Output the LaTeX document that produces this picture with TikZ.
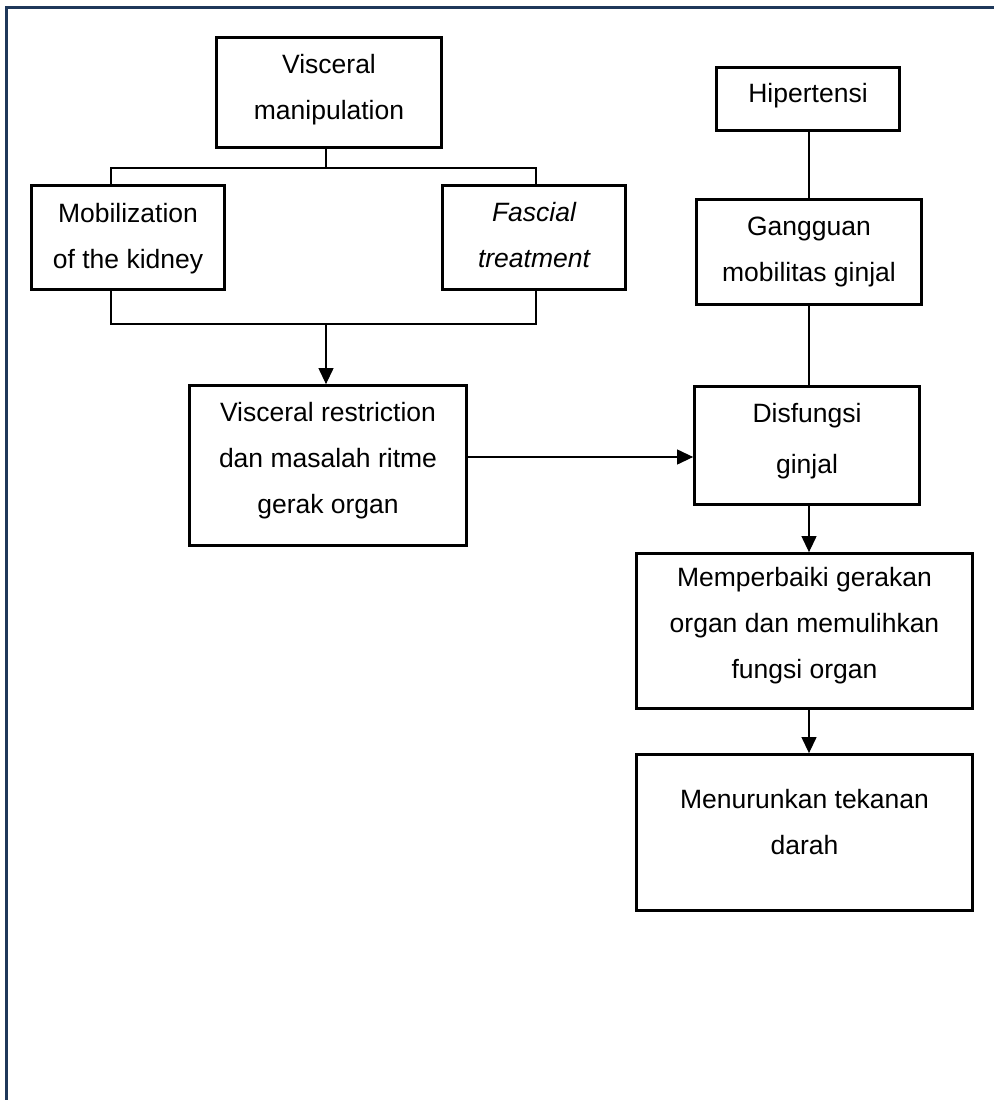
\documentclass[tikz,border=0pt]{standalone}
\usepackage{fontspec}
\setmainfont{Liberation Sans}
\usetikzlibrary{arrows.meta,calc}
\definecolor{framec}{RGB}{31,56,90}
\tikzset{
  box/.style={draw=black, line width=2.8pt, inner sep=0pt, fill=white},
  txt/.style={inner sep=0pt, align=center, font=\fontsize{26.5}{46}\selectfont},
  link/.style={draw=black, line width=1.2pt},
  arr/.style={link, -{Triangle[length=16pt,width=15pt]}},
}
\begin{document}
\begin{tikzpicture}[x=1pt,y=-1pt]
\useasboundingbox (0,0) rectangle (993,1100);
% outer frame
\draw[framec, line width=3.2pt] (995,7.5) -- (6.5,7.5) -- (6.5,1102);

% boxes
\node[box, minimum width=225, minimum height=110] (vm)   at (329,92.5)  {};
\node[box, minimum width=193, minimum height=104] (mob)  at (128,237.5) {};
\node[box, minimum width=183, minimum height=104] (fas)  at (534,237.5) {};
\node[box, minimum width=183, minimum height=63]  (hip)  at (808,99)    {};
\node[box, minimum width=225, minimum height=105] (gang) at (809,252)   {};
\node[box, minimum width=277, minimum height=160] (res)  at (328,465.5) {};
\node[box, minimum width=225, minimum height=118] (dis)  at (807,445.5) {};
\node[box, minimum width=336, minimum height=155] (mem)  at (804.5,631) {};
\node[box, minimum width=336, minimum height=156] (men)  at (804.5,832.5) {};

% texts
\node[txt] (vmt)   at (329,89.2)   {Visceral\\manipulation};
\node[txt] (mobt)  at (128,238.2)  {Mobilization\\of the kidney};
\node[txt] (fast)  at (534,235.4)  {\itshape Fascial\\\itshape treatment};
\node[txt] (hipt)  at (808,95.2)   {Hipertensi};
\node[txt] (gangt) at (809,252.2)  {Gangguan\\mobilitas ginjal};
\node[txt] (rest)  at (328,460.2)  {Visceral restriction\\dan masalah ritme\\gerak organ};
\node[txt] (dist)  at (807,440.7)  {Disfungsi\\[5pt]ginjal};
\node[txt] (memt)  at (804.5,626)  {Memperbaiki gerakan\\organ dan memulihkan\\fungsi organ};
\node[txt] (ment)  at (804.5,822.4){Menurunkan tekanan\\darah};

% helper coordinates
\coordinate (cx1) at (111,0);
\coordinate (cx2) at (536,0);
\coordinate (t1) at (326,168);
\coordinate (t2) at (326,324);
\coordinate (rc) at (809,0);
\coordinate (ya) at (0,457);

% left tree
\draw[link] (vm.south -| t1) -- (t1);
\draw[link] (mob.north -| cx1) |- (t1) -| (fas.north -| cx2);
\draw[link] (mob.south -| cx1) |- (t2) -| (fas.south -| cx2);
\draw[arr] (t2) -- (res.north -| t2);

% horizontal arrow
\draw[arr] (res.east |- ya) -- (dis.west |- ya);

% right column
\draw[link] (hip.south -| rc) -- (gang.north -| rc);
\draw[link] (gang.south -| rc) -- (dis.north -| rc);
\draw[arr] (dis.south -| rc) -- (mem.north -| rc);
\draw[arr] (mem.south -| rc) -- (men.north -| rc);
\end{tikzpicture}
\end{document}
